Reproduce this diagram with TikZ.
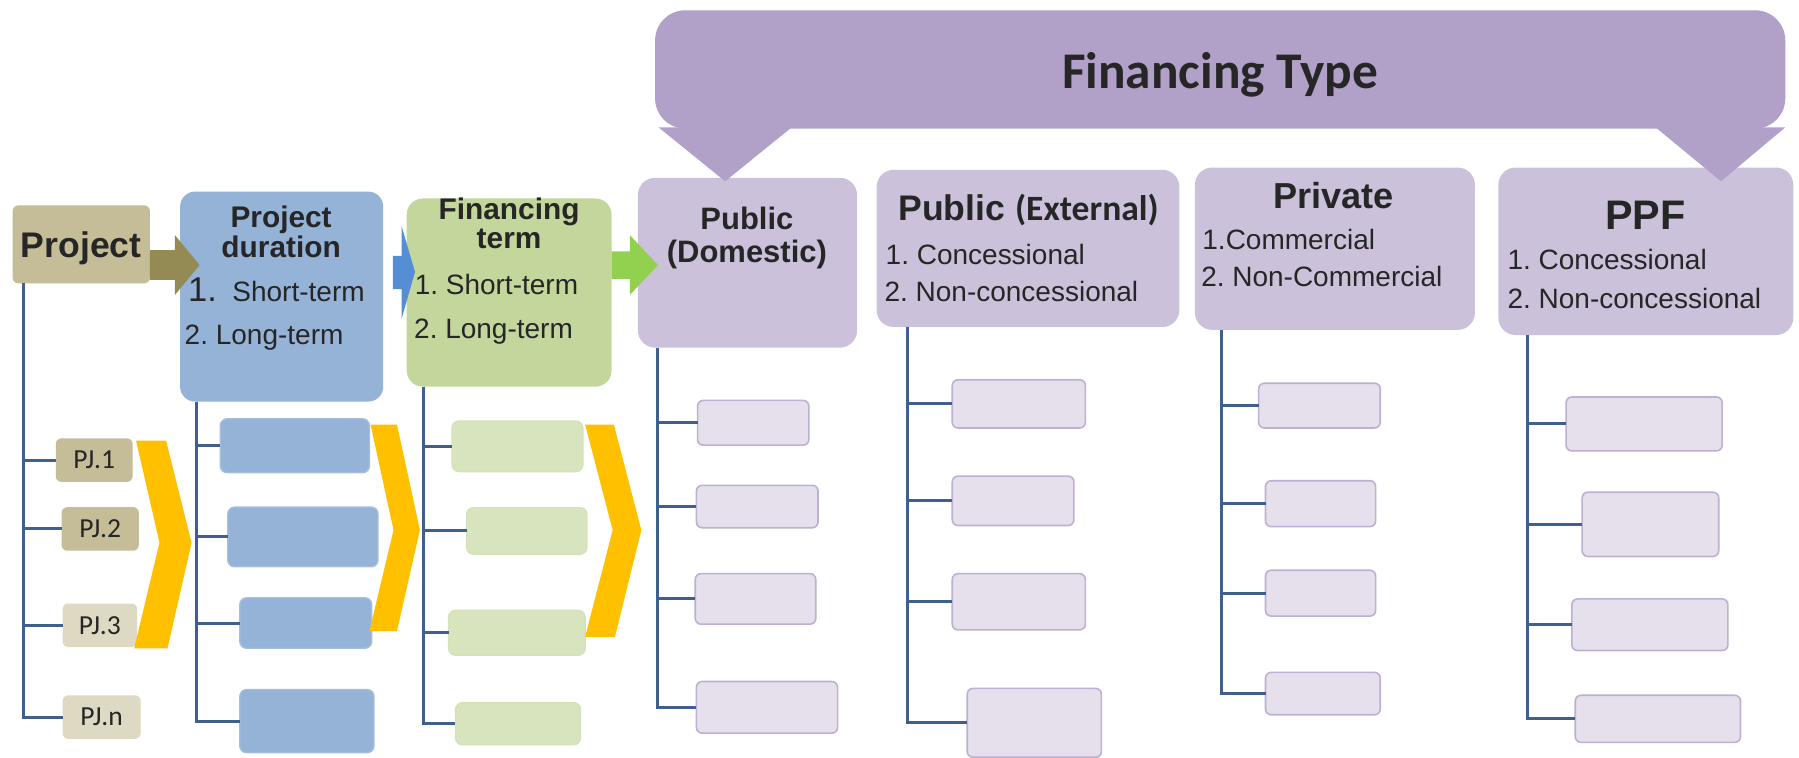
\documentclass[tikz,border=0pt]{standalone}
\usepackage{fontspec}
\setmainfont{Liberation Sans}
\newfontfamily\calibrifont{Carlito}
\usetikzlibrary{calc}
\frenchspacing
\definecolor{banner}{HTML}{B1A0C7}
\definecolor{hdr}{HTML}{CCC1DA}
\definecolor{smallp}{HTML}{E6E0EC}
\definecolor{smallpb}{HTML}{BDB0D2}
\definecolor{tanbox}{HTML}{C4BD97}
\definecolor{tanlt}{HTML}{DDD9C3}
\definecolor{tandk}{HTML}{948A54}
\definecolor{bluebox}{HTML}{95B3D7}
\definecolor{bluearr}{HTML}{558ED5}
\definecolor{greenbox}{HTML}{C3D69B}
\definecolor{greenlt}{HTML}{D7E4BD}
\definecolor{greenarr}{HTML}{92D050}
\definecolor{chev}{HTML}{FFC000}
\definecolor{trunk}{HTML}{3F5F8F}
\definecolor{txt}{HTML}{262626}
\newcommand\bx[7]{\node[#6, minimum width={(#4-#2)*0.5pt}, minimum height={(#5-#3)*0.5pt}] (#1) at ({(#2+#4)/2},{(#3+#5)/2}) {#7};}
\newcommand\fs[1]{\fontsize{#1}{#1}\selectfont}
\tikzset{
  box/.style={inner sep=0pt, outer sep=0pt},
  hdrbox/.style={box, fill=hdr, rounded corners=7.5pt},
  smallbox/.style={box, fill=smallp, draw=smallpb, line width=0.7pt, rounded corners=2.5pt},
  bluesmall/.style={box, fill=bluebox, draw=bluebox!85!white, line width=0.6pt, rounded corners=3pt},
  greensmall/.style={box, fill=greenlt, draw=greenbox!70!white, line width=0.6pt, rounded corners=3pt},
  pjbox/.style={box, fill=tanbox, rounded corners=2.5pt, font=\calibrifont\fs{12}, text=txt, text height=7.7pt, text depth=0pt},
  txtnode/.style={inner sep=0pt, outer sep=0pt, text=txt, anchor=base},
  ttl/.style={txtnode, font=\bfseries\fs{13}},
  item/.style={txtnode, anchor=base west, font=\fs{12.2}},
  treeline/.style={draw=trunk, line width=1.3pt},
}
\begin{document}
\begin{tikzpicture}[x=0.5pt, y=-0.5pt]
\useasboundingbox (0,0) rectangle (1568,660);
\fill[white] (0,0) rectangle (1568,660);

% ---- main boxes
\bx{proj}{11}{179}{130.7}{247}{box, fill=tanbox, rounded corners=2.5pt, font=\bfseries\fs{15.5}, text=txt, text height=11.1pt, text depth=0pt}{Project}
\bx{pdur}{157}{167}{334}{350}{box, fill=bluebox, rounded corners=6.5pt}{}
\bx{fterm}{354.5}{173}{533}{337}{box, fill=greenbox, rounded corners=7pt}{}
\bx{pubdom}{556}{155}{747}{303}{hdrbox}{}
\bx{pubext}{764}{148}{1028}{285}{hdrbox}{}
\bx{priv}{1041.5}{146}{1285.5}{287.5}{hdrbox}{}
\bx{ppf}{1306}{146}{1563}{292}{hdrbox}{}
\bx{fintype}{571}{9}{1556}{112}{box, fill=banner, rounded corners=13pt}{}

% ---- child boxes
\bx{pj1}{48.6}{382}{115.6}{420}{pjbox}{PJ.1}
\bx{pj2}{53.7}{442}{121}{480}{pjbox}{PJ.2}
\bx{pj3}{54.5}{526}{119.5}{564}{pjbox, fill=tanlt}{PJ.3}
\bx{pjn}{54.5}{606}{122.6}{644}{pjbox, fill=tanlt}{PJ.n}

\bx{pd1}{192}{365}{322}{412}{bluesmall}{}
\bx{pd2}{198.5}{442}{329.5}{494}{bluesmall}{}
\bx{pd3}{209}{521}{324}{565}{bluesmall}{}
\bx{pd4}{209}{601}{326}{656}{bluesmall}{}

\bx{ft1}{394}{367}{508}{411}{greensmall}{}
\bx{ft2}{406.6}{442.5}{511.6}{483}{greensmall}{}
\bx{ft3}{391}{532}{510}{571}{greensmall}{}
\bx{ft4}{397}{612.5}{506}{649}{greensmall}{}

\bx{pdm1}{608}{349}{705}{388}{smallbox}{}
\bx{pdm2}{607}{423}{713}{460}{smallbox}{}
\bx{pdm3}{606}{500}{711}{544}{smallbox}{}
\bx{pdm4}{607}{594}{730}{639}{smallbox}{}

\bx{pex1}{830}{331}{946}{373}{smallbox}{}
\bx{pex2}{830}{415}{936}{458}{smallbox}{}
\bx{pex3}{830}{500}{946}{549}{smallbox}{}
\bx{pex4}{843}{600}{960}{660}{smallbox}{}

\bx{prv1}{1097}{334}{1203}{373}{smallbox}{}
\bx{prv2}{1103}{419}{1199}{459}{smallbox}{}
\bx{prv3}{1103}{497}{1199}{537}{smallbox}{}
\bx{prv4}{1103}{586}{1203}{623}{smallbox}{}

\bx{ppf1}{1365}{346}{1501}{393}{smallbox}{}
\bx{ppf2}{1379}{429}{1498}{485}{smallbox}{}
\bx{ppf3}{1370}{522}{1506}{567}{smallbox}{}
\bx{ppf4}{1373}{606}{1517}{647}{smallbox}{}

% ---- tree connectors
\foreach \c in {pj1,pj2,pj3,pjn} \draw[treeline] ($(proj.south west)+(9.3,0)$) |- (\c.west);
\foreach \c in {pd1,pd2,pd3,pd4} \draw[treeline] ($(pdur.south west)+(14,0)$) |- (\c.west);
\foreach \c in {ft1,ft2,ft3,ft4} \draw[treeline] ($(fterm.south west)+(15,0)$) |- (\c.west);
\foreach \c in {pdm1,pdm2,pdm3,pdm4} \draw[treeline] ($(pubdom.south west)+(17,0)$) |- (\c.west);
\foreach \c in {pex1,pex2,pex3,pex4} \draw[treeline] ($(pubext.south west)+(27,0)$) |- (\c.west);
\foreach \c in {prv1,prv2,prv3,prv4} \draw[treeline] ($(priv.south west)+(23,0)$) |- (\c.west);
\foreach \c in {ppf1,ppf2,ppf3,ppf4} \draw[treeline] ($(ppf.south west)+(25.5,0)$) |- (\c.west);

% ---- block arrows
\fill[tandk] (130.7,218) -- (152.5,218) -- (152.5,205) -- (174,231) -- (152.5,257) -- (152.5,244) -- (130.7,244) -- cycle;
\fill[bluearr] (342.5,223) -- (350,223) -- (350,197) -- (361.7,237) -- (350,278) -- (350,252) -- (342.5,252) -- cycle;
\fill[greenarr] (533,219) -- (549,219) -- (549,205) -- (573.5,231) -- (549,257) -- (549,243) -- (533,243) -- cycle;

% ---- chevrons
\fill[chev] (118.6,384) -- (144.7,384) -- (167,473) -- (146,565) -- (117,565) -- (139,473) -- cycle;
\fill[chev] (323,370) -- (346,370) -- (366,462) -- (346,550) -- (322,550) -- (343,462) -- cycle;
\fill[chev] (510,370) -- (535,370) -- (559,462) -- (536,555) -- (510,555) -- (534,462) -- cycle;

% ---- banner pointers
\fill[banner] (574,111) -- (690,111) -- (632,158) -- cycle;
\fill[banner] (1443,111) -- (1556,111) -- (1500,158) -- cycle;

% ---- texts
\node[txtnode, font=\calibrifont\bfseries\fs{22.4}] (tft) at (1063.5,76.9) {Financing Type};

\node[ttl] (tpd1) at (245,198.3) {Project};
\node[ttl] (tpd2) at (245,224.3) {duration};
\node[item] (tpd3) at (164,262.6) {{\fs{15}1.}\ \ Short-term};
\node[item] (tpd4) at (161,300.6) {2. Long-term};

\node[ttl] (tft1) at (443.7,190.9) {Financing};
\node[ttl] (tft2) at (443.7,216.9) {term};
\node[item] (tft3) at (361.5,257.1) {1. Short-term};
\node[item] (tft4) at (361,294.6) {2. Long-term};

\node[ttl, font=\bfseries\fs{13.5}] (tpdm1) at (651,199.7) {Public};
\node[ttl, font=\bfseries\fs{13.5}] (tpdm2) at (651,228.7) {(Domestic)};

\node[ttl, font=\bfseries\fs{15.5}] (tpex) at (896.5,192.5) {Public {\calibrifont (External)}};
\node[item] (tpex1) at (772,230.6) {1. Concessional};
\node[item] (tpex2) at (771,262.6) {2. Non-concessional};

\node[ttl, font=\bfseries\fs{15.75}] (tprv) at (1162.5,181.3) {Private};
\node[item] (tprv1) at (1048,217.6) {1.Commercial};
\node[item] (tprv2) at (1047,249.6) {2. Non-Commercial};

\node[ttl, font=\bfseries\fs{18}] (tppf) at (1434,200.3) {PPF};
\node[item] (tppf1) at (1314,235.2) {1. Concessional};
\node[item] (tppf2) at (1314,268.6) {2. Non-concessional};
\end{tikzpicture}
\end{document}
